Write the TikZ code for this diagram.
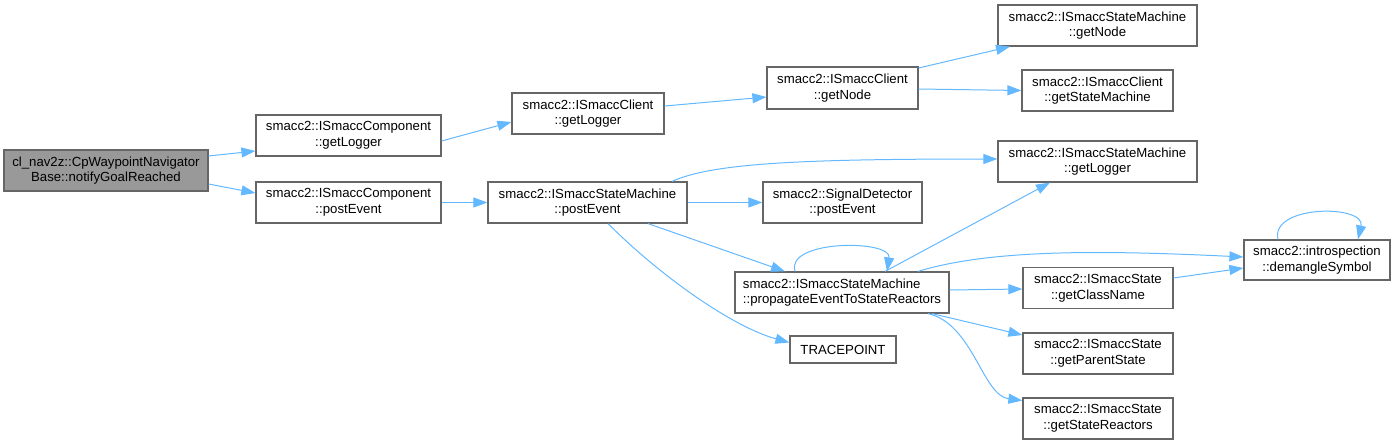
\documentclass[tikz,border=0pt]{standalone}
\usepackage{fontspec}
\setsansfont{Liberation Sans}
\usepackage{tikz}
\usetikzlibrary{arrows.meta}
\usepackage{xcolor}
\definecolor{calledge}{HTML}{63B8FF}
\definecolor{fnborder}{HTML}{666666}
\definecolor{fnroot}{HTML}{999999}

\begin{document}
\begin{tikzpicture}[
  x=1pt, y=-1pt,
  font=\sffamily\fontsize{13.2}{15.7}\selectfont,
  >={Triangle[length=14pt,width=10pt]},
  fnbox/.style={
    draw=fnborder,
    fill=white,
    line width=1.2pt,
    inner sep=0pt,
    minimum height=41pt,
    align=center
  },
  callto/.style={->, draw=calledge, line width=1pt}
]
  \useasboundingbox (0,0) rectangle (1398,445);

  % Caller
  \node[fnbox, fill=fnroot, minimum width=204pt] (notify) at (106,170.5) {cl\_nav2z::CpWaypointNavigator\\Base::notifyGoalReached};

  % Column 2
  \node[fnbox, minimum width=185pt] (compLogger) at (348.5,135.5) {smacc2::ISmaccComponent\\::getLogger};
  \node[fnbox, minimum width=185pt] (compPost) at (348.5,202.5) {smacc2::ISmaccComponent\\::postEvent};

  % Column 3
  \node[fnbox, minimum width=152pt] (clientLogger) at (588,113.5) {smacc2::ISmaccClient\\::getLogger};
  \node[fnbox, minimum width=199pt] (smPost) at (587.5,202.5) {smacc2::ISmaccStateMachine\\::postEvent};

  % Column 4
  \node[fnbox, minimum width=151pt, minimum height=42pt] (clientNode) at (842.5,88) {smacc2::ISmaccClient\\::getNode};
  \node[fnbox, minimum width=159pt] (sigPost) at (842.5,202.5) {smacc2::SignalDetector\\::postEvent};
  \node[fnbox, minimum width=214pt, align=left] (propagate) at (842,292.5) {smacc2::ISmaccStateMachine\\::propagateEventToStateReactors};
  \node[fnbox, minimum width=106pt, minimum height=27pt] (tracepoint) at (843,349.5) {TRACEPOINT};

  % Column 5
  \node[fnbox, minimum width=199pt] (smNode) at (1097.5,25.5) {smacc2::ISmaccStateMachine\\::getNode};
  \node[fnbox, minimum width=151pt] (clientSM) at (1097.5,90.5) {smacc2::ISmaccClient\\::getStateMachine};
  \node[fnbox, minimum width=199pt] (smLogger) at (1097.5,161.5) {smacc2::ISmaccStateMachine\\::getLogger};
  \node[fnbox, minimum width=150pt] (className) at (1098,288) {smacc2::ISmaccState\\::getClassName};
  \node[fnbox, minimum width=150pt] (parentState) at (1098,353.5) {smacc2::ISmaccState\\::getParentState};
  \node[fnbox, minimum width=150pt] (stateReactors) at (1098,418.5) {smacc2::ISmaccState\\::getStateReactors};

  % Column 6
  \node[fnbox, minimum width=146pt, minimum height=40pt] (demangle) at (1317,260) {smacc2::introspection\\::demangleSymbol};

  % Calls
  \draw[callto] ([yshift=14.5pt]notify.east) -- ([yshift=-15.5pt]compLogger.west);
  \draw[callto] ([yshift=-13.5pt]notify.east) -- ([yshift=9.5pt]compPost.west);
  \draw[callto] ([yshift=-5.5pt]compLogger.east) -- ([yshift=-8.5pt]clientLogger.west);
  \draw[callto] ([yshift=7.5pt]clientLogger.east) -- ([yshift=-9pt]clientNode.west);
  \draw[callto] ([yshift=20pt]clientNode.east) -- ([xshift=-87.5pt]smNode.south);
  \draw[callto] ([yshift=-1pt]clientNode.east) -- (clientSM.west);
  \draw[callto] (compPost.east) -- (smPost.west);
  \draw[callto] (smPost.east) -- (sigPost.west);
  \draw[callto] ([xshift=84.5pt]smPost.north) .. controls +(40,-18) and +(-200,0) .. ([yshift=2.5pt]smLogger.west);
  \draw[callto] ([xshift=60.5pt]smPost.south) -- ([xshift=-57pt]propagate.north);
  \draw[callto] ([xshift=20.5pt]smPost.south) .. controls +(55,55) and +(-55,-15) .. ([yshift=7pt]tracepoint.west);

  % Calls from propagateEventToStateReactors
  \draw[callto] ([xshift=-47pt]propagate.north) .. controls +(-10,-32) and +(5,-32) .. ([xshift=45pt]propagate.north);
  \draw[callto] ([xshift=43pt]propagate.north) -- ([xshift=-47.5pt]smLogger.south);
  \draw[callto] ([xshift=76pt]propagate.north) .. controls +(72,-22) and +(-144,-7) .. ([yshift=3pt]demangle.west);
  \draw[callto] ([yshift=2.5pt]propagate.east) -- ([yshift=-1pt]className.west);
  \draw[callto] ([xshift=90pt]propagate.south) -- ([yshift=18.5pt]parentState.west);
  \draw[callto] ([xshift=86pt]propagate.south) .. controls +(45,10) and +(-40,-5) .. ([yshift=18pt]stateReactors.west);
  \draw[callto] ([yshift=10pt]className.east) -- ([yshift=-8pt]demangle.west);
  \draw[callto] ([xshift=-39pt]demangle.north) .. controls +(-8,-35) and +(8,-35) .. ([xshift=41pt]demangle.north);

\end{tikzpicture}
\end{document}
